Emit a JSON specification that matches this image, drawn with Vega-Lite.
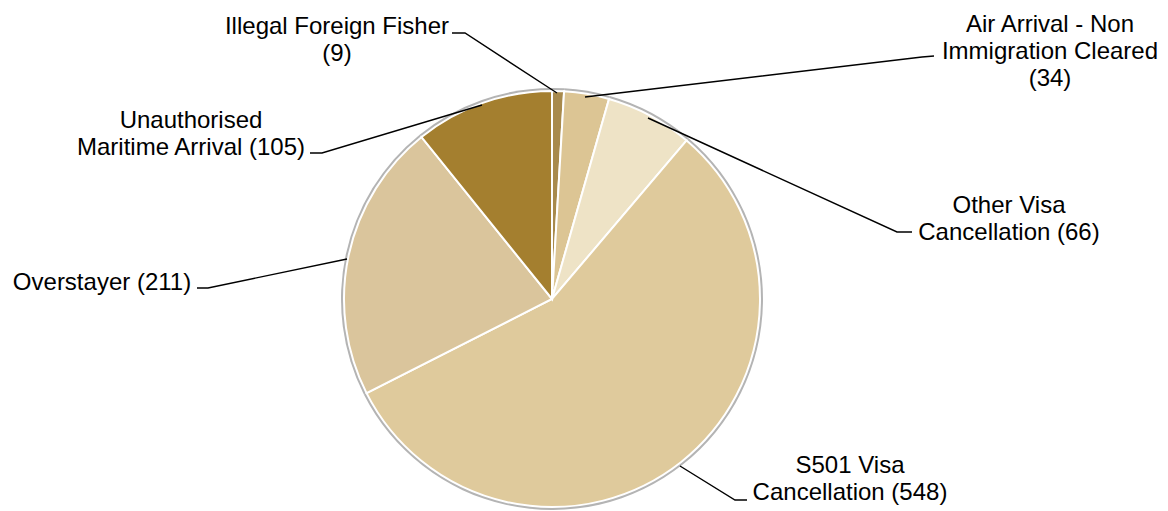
{
  "$schema": "https://vega.github.io/schema/vega-lite/v6.json",
  "autosize": {"type": "none"},
  "width": 1104,
  "height": 424,
  "padding": {"left": 0, "top": 87, "right": 64, "bottom": 0},
  "background": "white",
  "view": {"stroke": null},
  "data": {
    "values": [
      {"name": "Illegal Foreign Fisher", "value": 9, "rank": 1, "label": "Illegal Foreign Fisher\n(9)"},
      {"name": "Air Arrival - Non Immigration Cleared", "value": 34, "rank": 2, "label": "Air Arrival - Non\nImmigration Cleared\n(34)"},
      {"name": "Other Visa Cancellation", "value": 66, "rank": 3, "label": "Other Visa\nCancellation (66)"},
      {"name": "S501 Visa Cancellation", "value": 548, "rank": 4, "label": "S501 Visa\nCancellation (548)"},
      {"name": "Overstayer", "value": 211, "rank": 5, "label": "Overstayer (211)"},
      {"name": "Unauthorised Maritime Arrival", "value": 105, "rank": 6, "label": "Unauthorised\nMaritime Arrival (105)"}
    ]
  },
  "layer": [
    {
      "mark": {"type": "arc", "radius": 211, "color": "#b4b4b4", "stroke": null},
      "encoding": {
        "theta": {"field": "value", "type": "quantitative", "stack": true},
        "order": {"field": "rank", "type": "quantitative"}
      }
    },
    {
      "mark": {"type": "arc", "radius": 208, "stroke": "#ffffff", "strokeWidth": 2},
      "encoding": {
        "theta": {"field": "value", "type": "quantitative", "stack": true},
        "order": {"field": "rank", "type": "quantitative"},
        "color": {
          "field": "name",
          "type": "nominal",
          "legend": null,
          "scale": {
            "domain": ["Illegal Foreign Fisher", "Air Arrival - Non Immigration Cleared", "Other Visa Cancellation", "S501 Visa Cancellation", "Overstayer", "Unauthorised Maritime Arrival"],
            "range": ["#a88a4c", "#dcc594", "#eee3c6", "#dfca9c", "#dac59c", "#a47f2f"]
          }
        }
      }
    },
    {
      "mark": {"type": "point", "filled": false, "color": "#000000", "strokeWidth": 1.4, "opacity": 1, "size": 4},
      "encoding": {
        "shape": {
          "field": "name",
          "type": "nominal",
          "legend": null,
          "scale": {
            "domain": ["Illegal Foreign Fisher", "Air Arrival - Non Immigration Cleared", "Other Visa Cancellation", "S501 Visa Cancellation", "Overstayer", "Unauthorised Maritime Arrival"],
            "range": [
              "M5,-206L-87,-266L-100,-266",
              "M33,-202L370,-242L382,-243",
              "M96,-181L345,-67L360,-67",
              "M128,167L183,201L195,201",
              "M-205,-40L-344,-11L-355,-11",
              "M-70,-194L-230,-146L-242,-146"
            ]
          }
        }
      }
    },
    {
      "mark": {
        "type": "text",
        "font": "Liberation Sans",
        "fontSize": 24,
        "lineHeight": 27,
        "lineBreak": "\n",
        "align": "center",
        "baseline": "alphabetic",
        "color": "#000000",
        "dx": {"expr": "datum.rank == 1 ? -215 : datum.rank == 2 ? 498 : datum.rank == 3 ? 457 : datum.rank == 4 ? 298 : datum.rank == 5 ? -450 : -361"},
        "dy": {"expr": "datum.rank == 1 ? -265 : datum.rank == 2 ? -267 : datum.rank == 3 ? -86 : datum.rank == 4 ? 174 : datum.rank == 5 ? -9 : -171"}
      },
      "encoding": {
        "text": {"field": "label", "type": "nominal"}
      }
    }
  ]
}
